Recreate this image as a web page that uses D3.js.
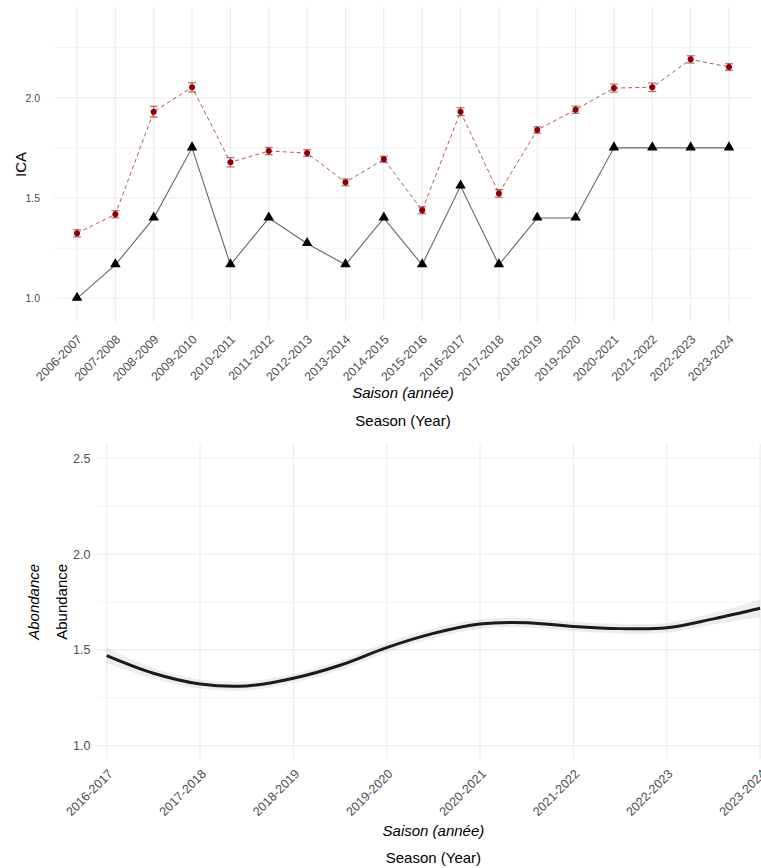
<!DOCTYPE html>
<html>
<head>
<meta charset="utf-8">
<script src="https://cdn.jsdelivr.net/npm/d3@7"></script>
<style>
  html, body { margin: 0; padding: 0; background: #fff; }
  svg { display: block; font-family: "Liberation Sans", Arial, sans-serif; }
</style>
</head>
<body>
<svg id="chart" width="761" height="868"></svg>
<script>
// ---- Top panel: ICA per season ----
const seasons = ["2006-2007","2007-2008","2008-2009","2009-2010","2010-2011","2011-2012",
  "2012-2013","2013-2014","2014-2015","2015-2016","2016-2017","2017-2018","2018-2019",
  "2019-2020","2020-2021","2021-2022","2022-2023","2023-2024"];
const icaValues = [1.0, 1.167, 1.4, 1.75, 1.167, 1.4, 1.273, 1.167, 1.4, 1.167, 1.56, 1.167,
  1.4, 1.4, 1.75, 1.75, 1.75, 1.75];
const meanValues = [1.324, 1.419, 1.930, 2.052, 1.678, 1.734, 1.724, 1.578, 1.693, 1.439,
  1.930, 1.523, 1.839, 1.940, 2.048, 2.052, 2.191, 2.153];
const meanErrors = [0.018, 0.018, 0.027, 0.023, 0.023, 0.018, 0.017, 0.017, 0.015, 0.017,
  0.020, 0.019, 0.016, 0.018, 0.020, 0.021, 0.018, 0.017];
const topYTicks = [1.0, 1.5, 2.0];
const topYMinor = [1.25, 1.75, 2.25];

// ---- Bottom panel: smoothed abundance ----
const smoothSeasons = ["2016-2017","2017-2018","2018-2019","2019-2020","2020-2021",
  "2021-2022","2022-2023","2023-2024"];
const smoothIndex = [0, 0.5, 1, 1.5, 2, 2.5, 3, 3.5, 4, 4.5, 5, 5.5, 6, 6.5, 7];
const smoothFit = [1.470, 1.378, 1.322, 1.312, 1.352, 1.420, 1.512, 1.586, 1.635, 1.642,
  1.622, 1.611, 1.615, 1.662, 1.717];
const smoothSE = [0.040, 0.028, 0.024, 0.023, 0.024, 0.025, 0.025, 0.025, 0.025, 0.025,
  0.025, 0.025, 0.026, 0.030, 0.045];
const botYTicks = [1.0, 1.5, 2.0, 2.5];
const botYMinor = [1.25, 1.75, 2.25];

const svg = d3.select("#chart");
const grid = "#ebebeb";
const tickColor = "#4d4d4d";

// ================= Top chart =================
const tp = { left: 54, right: 752, top: 7, bottom: 322 };
const xTop = d3.scalePoint().domain(seasons).range([tp.left, tp.right]).padding(0.6);
const yTop = d3.scaleLinear().domain([0.882, 2.452]).range([tp.bottom, tp.top]);

const gTop = svg.append("g");
gTop.selectAll("line.minor").data(topYMinor).join("line")
  .attr("x1", tp.left).attr("x2", tp.right)
  .attr("y1", d => yTop(d)).attr("y2", d => yTop(d))
  .attr("stroke", grid).attr("stroke-width", 0.6);
gTop.selectAll("line.major").data(topYTicks).join("line")
  .attr("x1", tp.left).attr("x2", tp.right)
  .attr("y1", d => yTop(d)).attr("y2", d => yTop(d))
  .attr("stroke", grid).attr("stroke-width", 1.1);
gTop.selectAll("line.vgrid").data(seasons).join("line")
  .attr("x1", d => xTop(d)).attr("x2", d => xTop(d))
  .attr("y1", tp.top).attr("y2", tp.bottom)
  .attr("stroke", grid).attr("stroke-width", 1.1);

// y axis labels
const yAxisTop = d3.axisLeft(yTop).tickValues(topYTicks).tickFormat(d3.format(".1f")).tickSize(0).tickPadding(0);
const yaT = gTop.append("g").attr("transform", `translate(${tp.left - 14},0)`).call(yAxisTop);
yaT.select(".domain").remove();
yaT.selectAll("text").attr("fill", tickColor).style("font-size", "10.5px")
  .style("font-family", "'Liberation Sans', Arial, sans-serif");

// x axis labels (rotated)
const xAxisTop = d3.axisBottom(xTop).tickSize(0);
const xaT = gTop.append("g").attr("transform", `translate(0,${tp.bottom})`).call(xAxisTop);
xaT.select(".domain").remove();
xaT.selectAll("text")
  .attr("fill", tickColor).style("font-size", "12.3px")
  .style("font-family", "'Liberation Sans', Arial, sans-serif")
  .attr("text-anchor", "end")
  .attr("y", 0).attr("dy", "0.71em")
  .attr("transform", "translate(-1,12) rotate(-45)");

// mean line (dashed red)
const lineMean = d3.line().x((d, i) => xTop(seasons[i])).y(d => yTop(d));
gTop.append("path").datum(meanValues)
  .attr("d", lineMean).attr("fill", "none")
  .attr("stroke", "#8B0000").attr("stroke-opacity", 0.65)
  .attr("stroke-width", 1).attr("stroke-dasharray", "4,3");

// ICA line (solid dark)
gTop.append("path").datum(icaValues)
  .attr("d", lineMean).attr("fill", "none")
  .attr("stroke", "#000").attr("stroke-opacity", 0.6).attr("stroke-width", 1.1);

// error bars
const eb = gTop.append("g").attr("stroke", "#8B0000").attr("stroke-opacity", 0.55).attr("stroke-width", 1.3);
meanValues.forEach((v, i) => {
  const x = xTop(seasons[i]);
  const y1 = yTop(v - meanErrors[i]), y2 = yTop(v + meanErrors[i]);
  eb.append("line").attr("x1", x).attr("x2", x).attr("y1", y1).attr("y2", y2);
  eb.append("line").attr("x1", x - 4).attr("x2", x + 4).attr("y1", y1).attr("y2", y1);
  eb.append("line").attr("x1", x - 4).attr("x2", x + 4).attr("y1", y2).attr("y2", y2);
});

// mean points
gTop.selectAll("circle.mean").data(meanValues).join("circle")
  .attr("cx", (d, i) => xTop(seasons[i])).attr("cy", d => yTop(d))
  .attr("r", 3).attr("fill", "#8B0000");

// ICA triangles
const tri = d3.symbol().type(d3.symbolTriangle).size(48);
gTop.selectAll("path.ica").data(icaValues).join("path")
  .attr("d", tri)
  .attr("transform", (d, i) => `translate(${xTop(seasons[i])},${yTop(d) - 0.5})`)
  .attr("fill", "#000");

// axis titles
svg.append("text").attr("x", (tp.left + tp.right) / 2).attr("y", 398)
  .attr("text-anchor", "middle").style("font-size", "15px").style("font-style", "italic")
  .attr("fill", "#000").text("Saison (année)");
svg.append("text").attr("x", (tp.left + tp.right) / 2).attr("y", 426)
  .attr("text-anchor", "middle").style("font-size", "15px")
  .attr("fill", "#000").text("Season (Year)");
svg.append("text").attr("transform", `translate(26,${(tp.top + tp.bottom) / 2}) rotate(-90)`)
  .attr("text-anchor", "middle").style("font-size", "15px")
  .attr("fill", "#000").text("ICA");

// ================= Bottom chart =================
const bp = { left: 97.4, right: 769.4, top: 444.3, bottom: 759.3 };
const xBot = d3.scaleLinear().domain([-0.1, 7.1]).range([bp.left, bp.right]);
const yBot = d3.scaleLinear().domain([0.929, 2.573]).range([bp.bottom, bp.top]);

const gBot = svg.append("g");
gBot.selectAll("line.minor").data(botYMinor).join("line")
  .attr("x1", bp.left).attr("x2", bp.right)
  .attr("y1", d => yBot(d)).attr("y2", d => yBot(d))
  .attr("stroke", grid).attr("stroke-width", 0.6);
gBot.selectAll("line.major").data(botYTicks).join("line")
  .attr("x1", bp.left).attr("x2", bp.right)
  .attr("y1", d => yBot(d)).attr("y2", d => yBot(d))
  .attr("stroke", grid).attr("stroke-width", 1.1);
gBot.selectAll("line.vgrid").data(smoothSeasons).join("line")
  .attr("x1", (d, i) => xBot(i)).attr("x2", (d, i) => xBot(i))
  .attr("y1", bp.top).attr("y2", bp.bottom)
  .attr("stroke", grid).attr("stroke-width", 1.1);

const yAxisBot = d3.axisLeft(yBot).tickValues(botYTicks).tickFormat(d3.format(".1f")).tickSize(0).tickPadding(0);
const yaB = gBot.append("g").attr("transform", `translate(${bp.left - 7},0)`).call(yAxisBot);
yaB.select(".domain").remove();
yaB.selectAll("text").attr("fill", tickColor).style("font-size", "12.5px")
  .style("font-family", "'Liberation Sans', Arial, sans-serif");

const xAxisBot = d3.axisBottom(xBot).tickValues(d3.range(smoothSeasons.length))
  .tickFormat(i => smoothSeasons[i]).tickSize(0);
const xaB = gBot.append("g").attr("transform", `translate(0,${bp.bottom})`).call(xAxisBot);
xaB.select(".domain").remove();
xaB.selectAll("text")
  .attr("fill", tickColor).style("font-size", "12.5px")
  .style("font-family", "'Liberation Sans', Arial, sans-serif")
  .attr("text-anchor", "end")
  .attr("y", 0).attr("dy", "0.71em")
  .attr("transform", "translate(0,9) rotate(-45)");

// confidence band and fitted curve
const smoothData = smoothIndex.map((t, i) => ({ t, y: smoothFit[i], se: smoothSE[i] }));
const band = d3.area().curve(d3.curveCatmullRom)
  .x(d => xBot(d.t)).y0(d => yBot(d.y - d.se)).y1(d => yBot(d.y + d.se));
gBot.append("path").datum(smoothData).attr("d", band)
  .attr("fill", "#999").attr("fill-opacity", 0.18);
const fit = d3.line().curve(d3.curveCatmullRom).x(d => xBot(d.t)).y(d => yBot(d.y));
gBot.append("path").datum(smoothData).attr("d", fit)
  .attr("fill", "none").attr("stroke", "#1a1a1a").attr("stroke-width", 3);

const midB = (bp.left + bp.right) / 2;
svg.append("text").attr("x", midB).attr("y", 836)
  .attr("text-anchor", "middle").style("font-size", "15px").style("font-style", "italic")
  .attr("fill", "#000").text("Saison (année)");
svg.append("text").attr("x", midB).attr("y", 863)
  .attr("text-anchor", "middle").style("font-size", "15px")
  .attr("fill", "#000").text("Season (Year)");
const midY = (bp.top + bp.bottom) / 2;
svg.append("text").attr("transform", `translate(39,${midY}) rotate(-90)`)
  .attr("text-anchor", "middle").style("font-size", "15px").style("font-style", "italic")
  .attr("fill", "#000").text("Abondance");
svg.append("text").attr("transform", `translate(67,${midY}) rotate(-90)`)
  .attr("text-anchor", "middle").style("font-size", "15px")
  .attr("fill", "#000").text("Abundance");
</script>
</body>
</html>
